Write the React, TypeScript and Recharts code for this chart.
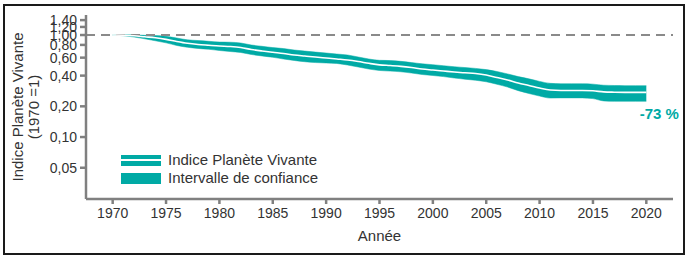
import React from 'react';
import { ComposedChart, Area, Line, XAxis, YAxis, ReferenceLine, ReferenceDot } from 'recharts';

// Indice Planète Vivante (1970 = 1)
const years = [
  1970, 1971, 1972, 1973, 1974, 1975, 1976, 1977, 1978, 1979,
  1980, 1981, 1982, 1983, 1984, 1985, 1986, 1987, 1988, 1989,
  1990, 1991, 1992, 1993, 1994, 1995, 1996, 1997, 1998, 1999,
  2000, 2001, 2002, 2003, 2004, 2005, 2006, 2007, 2008, 2009,
  2010, 2011, 2012, 2013, 2014, 2015, 2016, 2017, 2018, 2019,
  2020,
];
const lpi = [
  1.0, 0.995, 0.982, 0.96, 0.939, 0.907, 0.864, 0.829, 0.807, 0.793,
  0.78, 0.771, 0.754, 0.721, 0.697, 0.677, 0.659, 0.637, 0.622, 0.608,
  0.595, 0.582, 0.569, 0.55, 0.528, 0.51, 0.502, 0.493, 0.48, 0.464,
  0.454, 0.444, 0.434, 0.426, 0.419, 0.405, 0.383, 0.362, 0.338, 0.32,
  0.302, 0.289, 0.286, 0.286, 0.286, 0.284, 0.277, 0.275, 0.274, 0.274,
  0.274,
];
const lpiLow = [
  1.0, 0.984, 0.956, 0.918, 0.878, 0.838, 0.79, 0.758, 0.738, 0.725,
  0.705, 0.689, 0.674, 0.644, 0.623, 0.605, 0.582, 0.563, 0.547, 0.537,
  0.532, 0.526, 0.508, 0.486, 0.464, 0.449, 0.443, 0.436, 0.424, 0.41,
  0.401, 0.391, 0.379, 0.369, 0.36, 0.348, 0.329, 0.309, 0.285, 0.267,
  0.252, 0.241, 0.242, 0.242, 0.242, 0.238, 0.226, 0.224, 0.224, 0.224,
  0.224,
];
const lpiHigh = [
  1.0, 1.006, 1.004, 0.993, 0.989, 0.97, 0.935, 0.897, 0.883, 0.868,
  0.853, 0.85, 0.835, 0.798, 0.775, 0.753, 0.737, 0.713, 0.696, 0.68,
  0.666, 0.651, 0.637, 0.609, 0.582, 0.565, 0.562, 0.552, 0.537, 0.522,
  0.512, 0.5, 0.489, 0.48, 0.471, 0.458, 0.439, 0.416, 0.391, 0.372,
  0.351, 0.336, 0.333, 0.333, 0.333, 0.33, 0.322, 0.32, 0.319, 0.319,
  0.319,
];
const xTicks = [1970, 1975, 1980, 1985, 1990, 1995, 2000, 2005, 2010, 2015, 2020];
const yTicks = [0.05, 0.1, 0.2, 0.4, 0.6, 0.8, 1.0, 1.2, 1.4];
const changeLabel = '-73 %';

const TEAL = '#00aaa5';
const AXIS = '#808080';
const FONT = '"Liberation Sans", Arial, sans-serif';

const data = years.map((year, i) => ({
  year,
  index: lpi[i],
  range: [lpiLow[i], lpiHigh[i]],
}));

const YTitle = (props: any) => {
  const vb = props.viewBox || { x: 26, y: 15, width: 60, height: 184 };
  const cy = vb.y + vb.height / 2;
  const x1 = vb.x - 9;
  const x2 = vb.x + 7;
  return (
    <g fill="#333" fontSize={15} fontFamily={FONT}>
      <text x={x1} y={cy} textAnchor="middle" dominantBaseline="central" transform={`rotate(-90 ${x1} ${cy})`}>
        Indice Planète Vivante
      </text>
      <text x={x2} y={cy} textAnchor="middle" dominantBaseline="central" transform={`rotate(-90 ${x2} ${cy})`}>
        (1970 =1)
      </text>
    </g>
  );
};

const ChangeLabel = (props: any) => {
  const vb = props.viewBox || { x: 0, y: 0 };
  return (
    <text x={vb.x + 13} y={vb.y + 21} textAnchor="middle" dominantBaseline="central"
      fill={TEAL} fontSize={15} fontWeight="bold" fontFamily={FONT}>
      {changeLabel}
    </text>
  );
};

export default function App() {
  return (
    <div style={{ position: 'absolute', left: 0, top: 0, width: 687, height: 257, background: '#fff', fontFamily: FONT }}>
      <div style={{
        position: 'absolute', left: 3, top: 4, width: 682, height: 251,
        border: '2px solid #1a1a1a', boxSizing: 'border-box',
      }} />
      <div style={{ position: 'absolute', left: 0, top: 0 }}>
        <ComposedChart width={687} height={257} data={data}
          margin={{ top: 15, right: 14, bottom: 28, left: 26 }}>
          <XAxis
            dataKey="year"
            type="number"
            domain={[1967.5, 2022.5]}
            ticks={xTicks}
            allowDataOverflow
            height={30}
            stroke={AXIS}
            strokeWidth={2.5}
            tickSize={5}
            tickMargin={4}
            tick={{ fontSize: 14, fill: '#333', fontFamily: FONT }}
            label={{ value: 'Année', position: 'insideBottom', offset: -12, fontSize: 15, fill: '#333', fontFamily: FONT }}
          />
          <YAxis
            scale="log"
            type="number"
            domain={[0.0247, 1.571]}
            ticks={yTicks}
            allowDataOverflow
            width={60}
            stroke={AXIS}
            strokeWidth={2.5}
            tickSize={6}
            tickMargin={3}
            interval={0}
            tickFormatter={(v: number) => v.toFixed(2).replace('.', ',')}
            tick={{ fontSize: 14, fill: '#333', fontFamily: FONT }}
            label={<YTitle />}
          />
          <ReferenceLine y={1} stroke="#8a8a8a" strokeWidth={2} strokeDasharray="9 6" />
          <Area
            dataKey="range"
            type="monotone"
            fill={TEAL}
            fillOpacity={1}
            stroke={TEAL}
            strokeWidth={0.5}
            isAnimationActive={false}
          />
          <Line
            dataKey="index"
            type="monotone"
            stroke="#ffffff"
            strokeWidth={1.6}
            dot={false}
            isAnimationActive={false}
          />
          <ReferenceDot x={2020} y={0.274} r={0} fill="none" stroke="none" label={<ChangeLabel />} />
        </ComposedChart>
      </div>
      <div style={{ position: 'absolute', left: 121, top: 151, fontSize: 15, color: '#333', lineHeight: '18px' }}>
        <div style={{ display: 'flex', alignItems: 'center', height: 18 }}>
          <div style={{ width: 40, height: 11, background: TEAL, position: 'relative', marginRight: 7 }}>
            <div style={{ position: 'absolute', left: 0, top: 4.5, width: 40, height: 2, background: '#fff' }} />
          </div>
          <span>Indice Planète Vivante</span>
        </div>
        <div style={{ display: 'flex', alignItems: 'center', height: 18 }}>
          <div style={{ width: 40, height: 11, background: TEAL, marginRight: 7 }} />
          <span>Intervalle de confiance</span>
        </div>
      </div>
    </div>
  );
}
